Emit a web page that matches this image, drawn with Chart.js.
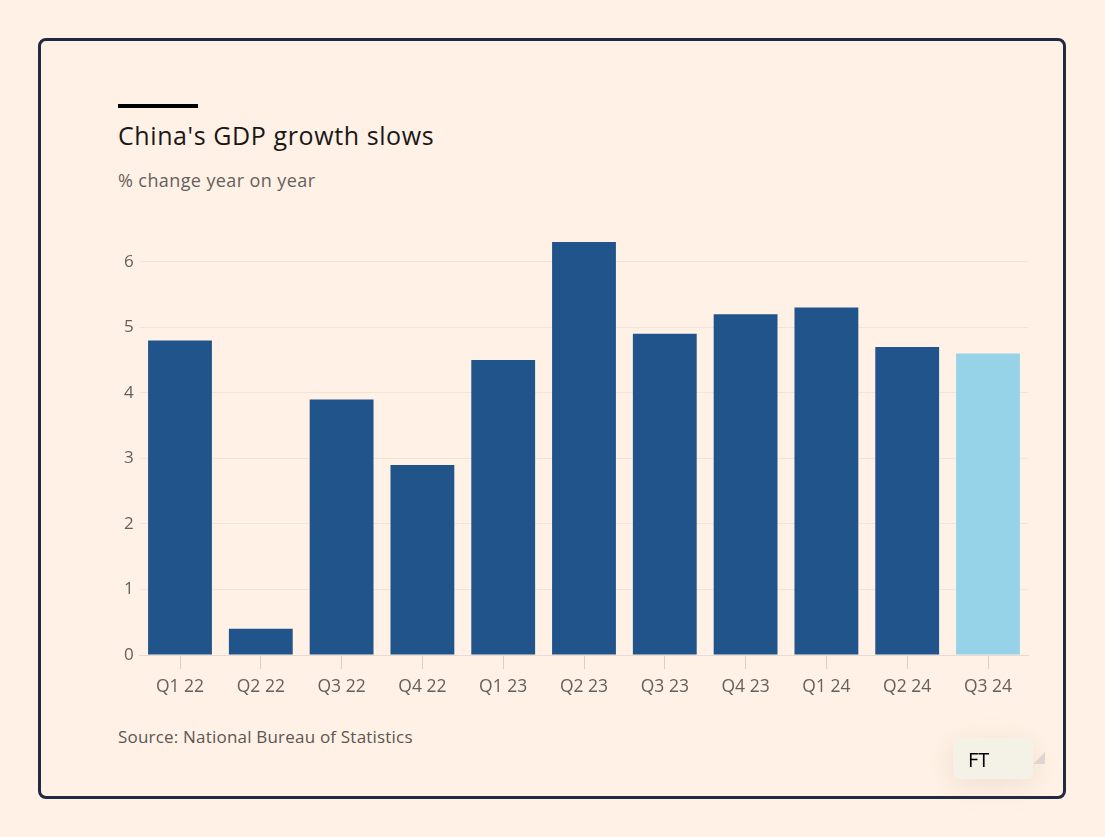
<!DOCTYPE html>
<html>
<head>
<meta charset="utf-8">
<script src="https://cdn.jsdelivr.net/npm/chart.js@4/dist/chart.umd.min.js"></script>
<style>
  body { margin:0; background:#fff1e5; width:1105px; height:837px; overflow:hidden; font-family:"Open Sans", sans-serif; }
  #frame { position:absolute; left:38px; top:38px; width:1022px; height:755px; border:3px solid #1f2a44; border-radius:8px; }
  #rule { position:absolute; left:118px; top:104px; width:80px; height:4px; background:#000; }
  #title { position:absolute; left:118px; top:118px; font-size:25px; letter-spacing:0.6px; color:#1a1817; white-space:nowrap; }
  #sub { position:absolute; left:118px; top:168px; font-size:18px; letter-spacing:0.4px; color:#66605c; white-space:nowrap; }
  #source { position:absolute; left:118px; top:725px; font-size:17px; letter-spacing:0.2px; color:#5c5652; white-space:nowrap; }
  #ft { position:absolute; left:953px; top:738px; width:80px; height:41px; background:#f4f2e7; border-radius:6px; box-shadow:0 6px 24px rgba(200,170,150,0.25); }
  #ft span { position:absolute; left:15px; top:8px; font-size:20px; color:#000; }
  #tri { position:absolute; left:1033px; top:752px; width:0; height:0; border-left:12px solid transparent; border-bottom:12px solid #ddd6cf; }
  #box { position:absolute; left:100px; top:180px; width:940px; height:530px; }
</style>
</head>
<body>
<div id="frame"></div>
<div id="rule"></div>
<div id="title">China's GDP growth slows</div>
<div id="sub">% change year on year</div>
<div id="box"><canvas id="GdpChart"></canvas></div>
<div id="source">Source: National Bureau of Statistics</div>
<div id="ft"><span>FT</span></div>
<div id="tri"></div>
<script>
// quarters on the x axis
var quarters = ["Q1 22", "Q2 22", "Q3 22", "Q4 22", "Q1 23", "Q2 23", "Q3 23", "Q4 23", "Q1 24", "Q2 24", "Q3 24"];
// GDP growth, % year on year
var growth = [4.8, 0.4, 3.9, 2.9, 4.5, 6.3, 4.9, 5.2, 5.3, 4.7, 4.6];
var yTicks = [0, 1, 2, 3, 4, 5, 6];

var barColors = [];
for (var i in growth) {
    barColors.push(i == growth.length - 1 ? "#96d3e8" : "#20548a");
}

var ctx = document.getElementById("GdpChart");
var GdpGraph = new Chart(ctx, {
    type: 'bar',
    data: {
        labels: quarters,
        datasets: [{
            label: "GDP",
            data: growth,
            backgroundColor: barColors,
            borderWidth: 0,
            barPercentage: 0.79,
            categoryPercentage: 1
        }]
    },
    options: {
        responsive: true,
        maintainAspectRatio: false,
        animation: false,
        layout: { padding: { top: 6.5, right: 11.6, left: 0, bottom: 0 } },
        plugins: { legend: { display: false }, tooltip: { enabled: false } },
        scales: {
            x: {
                grid: { offset: false, drawOnChartArea: false, color: "#d9d0c8", tickLength: 14 },
                border: { color: "#e6dcd3" },
                ticks: { color: "#66605c", padding: 8, font: { family: "Open Sans", size: 17.5 } },
                afterFit: function (scale) { scale.height = 55; }
            },
            y: {
                min: 0,
                max: 7,
                afterBuildTicks: function (axis) {
                    axis.ticks = yTicks.map(function (v) { return { value: v }; });
                },
                grid: { color: "#f1e5da", drawTicks: false },
                border: { display: false },
                ticks: { color: "#66605c", padding: 6, font: { family: "Open Sans", size: 17 } },
                afterFit: function (scale) { scale.width = 39.6; }
            }
        }
    }
});
</script>
</body>
</html>
